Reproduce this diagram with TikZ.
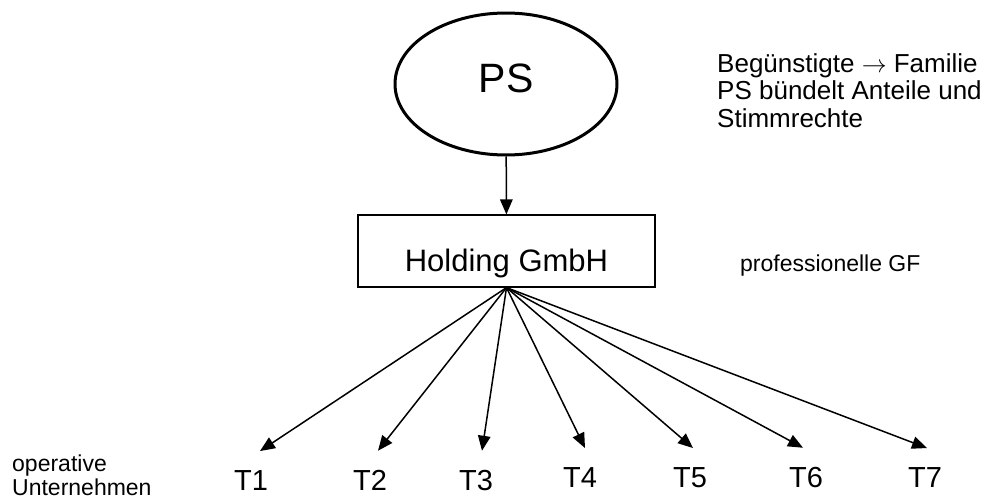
\documentclass[tikz,border=0pt]{standalone}
\usepackage{fontspec}
\setmainfont{Liberation Sans}
\usepackage{tikz}
\usetikzlibrary{arrows.meta}
\usetikzlibrary{positioning,shapes.geometric}
\tikzset{
    owner/.style={
        draw,
        ellipse,
        line width=3pt,
        minimum width=222pt,
        minimum height=142pt,
        inner sep=0pt,
        text depth=12pt,
        font=\fontsize{41}{43}\selectfont
    },
    holding/.style={
        draw,
        rectangle,
        line width=1.2pt,
        minimum width=297pt,
        minimum height=72pt,
        inner sep=0pt,
        text height=47pt,
        text depth=7pt,
        font=\fontsize{31}{33}\selectfont
    },
    link/.style={
        draw,
        -{Triangle[length=15pt, width=12.5pt]},
        line width=1.5pt
    }
}

\begin{document}
\begin{tikzpicture}[x=1pt,y=-1pt]
  \useasboundingbox (0,0) rectangle (989,498);
  % Define styles for the text
  \tikzset{
    unit/.style={
      inner sep=0pt,
      outer ysep=19pt,
      font=\fontsize{29}{30}\selectfont
    },
    note/.style={
      inner sep=0pt,
      align=left,
      font=\fontsize{26}{27.5}\selectfont
    },
    small note/.style={
      note,
      font=\fontsize{23}{24}\selectfont
    }
  }

  % Create owner and holding
  \node[owner] (ps) at (506,84) {PS};
  \node[holding] (hold) at (506.5,251) {Holding GmbH};
  \draw[link] (ps) -- (hold);

  % Create operating companies
  \foreach \n/\x/\y in {1/251/490, 2/370/490, 3/476/490, 4/580/487, 5/690/487, 6/806/487, 7/925/487} {
    \node[unit, anchor=base] (t\n) at (\x,\y) {T\n};
  }

  % Draw arrows from holding to companies
  \foreach \n/\dx in {1/9, 2/8, 3/6, 4/5, 5/3, 6/-3, 7/2} {
    \draw[link] (hold.south) -- ([xshift=\dx pt]t\n.north);
  }

  % Add remarks (base = baseline of the last line)
  \node[note, anchor=base west] (info) at (717,127) {Begünstigte $\rightarrow$ Familie\\PS bündelt Anteile und\\Stimmrechte};
  \node[small note, anchor=base west] (gf) at (740,271) {professionelle GF};
  \node[small note, anchor=base west] (ops) at (12,495) {operative\\Unternehmen};
\end{tikzpicture}
\end{document}
